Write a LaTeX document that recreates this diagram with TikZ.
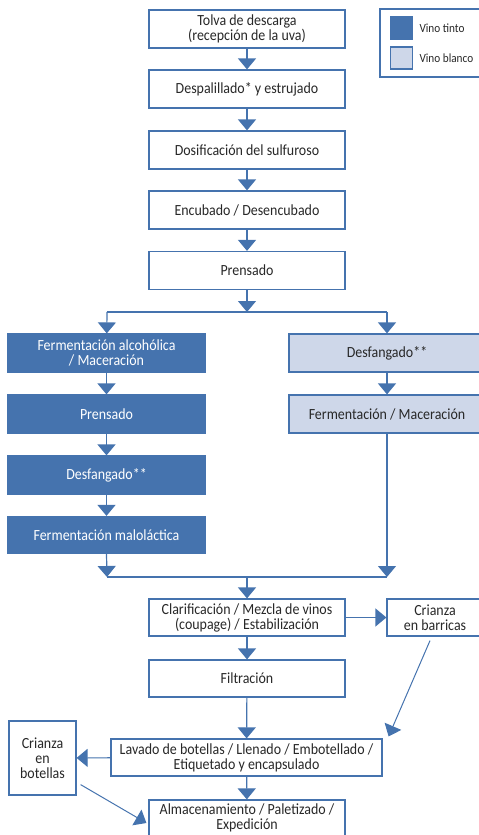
\documentclass[tikz,border=0pt]{standalone}
\usepackage{fontspec}
\setmainfont{Carlito}[FakeStretch=0.9]
\usetikzlibrary{arrows.meta}
\definecolor{vinoazul}{RGB}{69,115,174}
\definecolor{vinoclaro}{RGB}{206,215,233}
\definecolor{texto}{RGB}{40,40,40}

\begin{document}
\begin{tikzpicture}[x=1pt,y=-1pt,
  caja/.style={draw=vinoazul,line width=1.2pt,fill=white,text=texto,align=center,
    inner sep=0pt,minimum width=196pt,minimum height=37pt,font=\fontsize{15.5}{15}\selectfont},
  tinto/.style={caja,fill=vinoazul,text=white},
  blanco/.style={caja,fill=vinoclaro},
  flecha/.style={draw=vinoazul,line width=1.2pt,-{Triangle[width=18pt,length=11pt]}},
  linea/.style={draw=vinoazul,line width=1.2pt}]
\useasboundingbox (0,0) rectangle (479,835);

% tronco comun
\node[caja,minimum height=38pt] (tolva) at (247,29) {Tolva de descarga\\(recepción de la uva)};
\node[caja,minimum height=38pt] (despalillado) at (247,89) {Despalillado* y estrujado};
\node[caja,minimum height=38pt] (dosificacion) at (247,150) {Dosificación del sulfuroso};
\node[caja,minimum height=38pt] (encubado) at (247,210) {Encubado / Desencubado};
\node[caja,minimum height=38pt] (prensado) at (247,270.5) {Prensado};
\foreach \a/\b in {tolva/despalillado,despalillado/dosificacion,dosificacion/encubado,encubado/prensado}
  \draw[flecha] (\a) -- (\b);

% leyenda
\draw[linea,fill=white] (380,9) rectangle (486,77);
\node[tinto,minimum width=22pt,minimum height=22pt] (muestraT) at (401.5,28) {};
\node[blanco,minimum width=22pt,minimum height=22pt] (muestraB) at (401.5,58) {};
\node[anchor=west,text=texto,font=\fontsize{12.5}{12}\selectfont] (leyT) at (416,28) {Vino tinto};
\node[anchor=west,text=texto,font=\fontsize{12.5}{12}\selectfont] (leyB) at (416,58) {Vino blanco};

% vino tinto / vino blanco
\node[tinto,minimum width=197pt,minimum height=38pt] (fermalc) at (106.5,353) {Fermentación alcohólica\\/ Maceración};
\node[tinto,minimum width=197pt,minimum height=38pt] (prensadoT) at (106.5,414) {Prensado};
\node[tinto,minimum width=197pt,minimum height=38pt] (desfT) at (106.5,475) {Desfangado**};
\node[tinto,minimum width=197pt,minimum height=37pt] (malo) at (106.5,535) {Fermentación maloláctica};
\node[blanco,minimum height=38pt] (desfB) at (387,353) {Desfangado**};
\node[blanco,minimum height=38pt] (fermB) at (387,414) {Fermentación / Maceración};

\coordinate (split) at (247,312);
\coordinate (splitL) at (107,312);
\coordinate (splitR) at (387,312);
\draw[flecha] (prensado) -- (split);
\draw[linea] (splitL) -- (splitR);
\draw[flecha] (splitL) -- (fermalc);
\draw[flecha] (splitR) -- (desfB);
\draw[flecha] (fermalc) -- (prensadoT);
\draw[flecha] (prensadoT) -- (desfT);
\draw[flecha] (desfT) -- (malo);
\draw[flecha] (desfB) -- (fermB);

\coordinate (merge) at (247,577);
\coordinate (mergeL) at (107,577);
\coordinate (mergeR) at (387,577);
\draw[flecha] (malo.south) -- (mergeL);
\draw[flecha] (fermB.south) -- (mergeR);
\draw[linea] (mergeL) -- (mergeR);

% tramo final
\node[caja] (clarif) at (247,617.5) {Clarificación / Mezcla de vinos\\(coupage) / Estabilización};
\node[caja,minimum width=96pt] (barricas) at (435,617.5) {Crianza\\en barricas};
\node[caja] (filtracion) at (247,678.5) {Filtración};
\node[caja,minimum width=271pt] (lavado) at (246.5,757.5) {Lavado de botellas / Llenado / Embotellado /\\Etiquetado y encapsulado};
\node[caja,minimum width=67pt,minimum height=74pt] (botellas) at (42.5,758) {Crianza\\en\\botellas};
\node[caja,minimum height=36pt] (almacen) at (247,818) {Almacenamiento / Paletizado /\\Expedición};

\draw[flecha] (merge) -- (clarif);
\draw[flecha] (clarif) -- (barricas);
\draw[flecha] (clarif) -- (filtracion);
\draw[flecha] (filtracion) -- (lavado);
\draw[flecha] (lavado) -- (almacen);
\draw[flecha] (lavado) -- (botellas);
\draw[flecha,line width=1pt] ([shift={(-5pt,-4pt)}]barricas.south) -- ([shift={(6pt,2pt)}]lavado.north east);
\draw[flecha,line width=1pt] ([shift={(4pt,11pt)}]botellas.south east) -- ([shift={(-2pt,-5pt)}]almacen.west);
\end{tikzpicture}
\end{document}
